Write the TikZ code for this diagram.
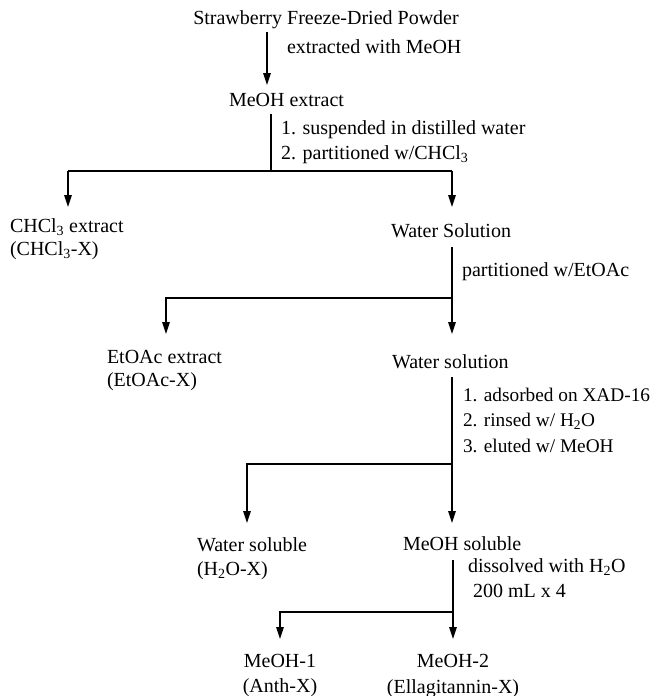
\documentclass[tikz,border=0pt]{standalone}
\usepackage{fontspec}
\setmainfont{Liberation Serif}
\usetikzlibrary{arrows.meta}
\begin{document}
\begin{tikzpicture}[x=1pt,y=-1pt,
  lbl/.style={inner sep=0pt,outer sep=0pt,font=\fontsize{20}{25}\selectfont,anchor=base west},
  slbl/.style={lbl,font=\fontsize{19.3}{25}\selectfont},
  clbl/.style={lbl,anchor=base},
  line/.style={line width=1.3pt},
  arr/.style={line width=1.3pt,-{Triangle[length=12pt,width=7.5pt]}}]
\useasboundingbox (0,0) rectangle (656,696);
% texts
\node[clbl] (title) at (326,24) {Strawberry Freeze-Dried Powder};
\node[lbl] (s1) at (287,53) {extracted with MeOH};
\node[lbl] (meoh) at (229,106) {MeOH extract};
\node[lbl] (s2a) at (281,134) {1. suspended in distilled water};
\node[lbl] (s2b) at (281,159) {2. partitioned w/CHCl\textsubscript{3}};
\node[lbl] (chcl) at (10,232) {CHCl\textsubscript{3} extract};
\node[lbl] (chclx) at (10,255) {(CHCl\textsubscript{3}-X)};
\node[lbl] (ws1) at (391,237) {Water Solution};
\node[lbl] (s3) at (462,276) {partitioned w/EtOAc};
\node[lbl] (etoac) at (107,363) {EtOAc extract};
\node[lbl] (etoacx) at (107,386) {(EtOAc-X)};
\node[lbl] (ws2) at (392,368) {Water solution};
\node[slbl] (s4a) at (463,401) {1. adsorbed on XAD-16};
\node[slbl] (s4b) at (463,426) {2. rinsed w/ H\textsubscript{2}O};
\node[slbl] (s4c) at (463,452) {3. eluted w/ MeOH};
\node[lbl] (wsol) at (197,551) {Water soluble};
\node[lbl] (wsolx) at (197,575) {(H\textsubscript{2}O-X)};
\node[lbl] (msol) at (403,550) {MeOH soluble};
\node[lbl] (s5a) at (468,572) {dissolved with H\textsubscript{2}O};
\node[lbl] (s5b) at (473,597) {200 mL x 4};
\node[clbl] (m1) at (280,667) {MeOH-1};
\node[clbl] (m1x) at (280,692) {(Anth-X)};
\node[clbl] (m2) at (453,667) {MeOH-2};
\node[clbl] (m2x) at (453,693) {(Ellagitannin-X)};
% connector points
\coordinate (a1s) at (267,32);
\coordinate (a1e) at (267,85);
\coordinate (b1s) at (271,114);
\coordinate (b1) at (271,171);
\coordinate (b1l) at (68,171);
\coordinate (b1r) at (452,171);
\coordinate (t1l) at (68,207);
\coordinate (t1r) at (452,207);
\coordinate (b2s) at (452,247);
\coordinate (b2) at (452,298);
\coordinate (b2l) at (166,298);
\coordinate (t2l) at (166,334);
\coordinate (t2r) at (452,334);
\coordinate (b3s) at (452,377);
\coordinate (b3) at (452,464);
\coordinate (b3l) at (247,464);
\coordinate (t3l) at (247,523);
\coordinate (t3r) at (452,523);
\coordinate (b4s) at (453,560);
\coordinate (b4) at (453,612);
\coordinate (b4l) at (280,612);
\coordinate (t4l) at (280,639);
\coordinate (t4r) at (453,639);
% connectors
\draw[arr] (a1s) -- (a1e);
\draw[line] (b1s) -- (b1);
\draw[line] (b1l) -- (b1r);
\draw[arr] (b1l) -- (t1l);
\draw[arr] (b1r) -- (t1r);
\draw[line] (b2s) -- (b2);
\draw[arr] (b2) -- (t2r);
\draw[arr] (b2) -| (t2l);
\draw[arr] (b3s) -- (t3r);
\draw[arr] (b3) -| (t3l);
\draw[line] (b4s) -- (b4);
\draw[arr] (b4) -- (t4r);
\draw[arr] (b4) -| (t4l);
\end{tikzpicture}
\end{document}
